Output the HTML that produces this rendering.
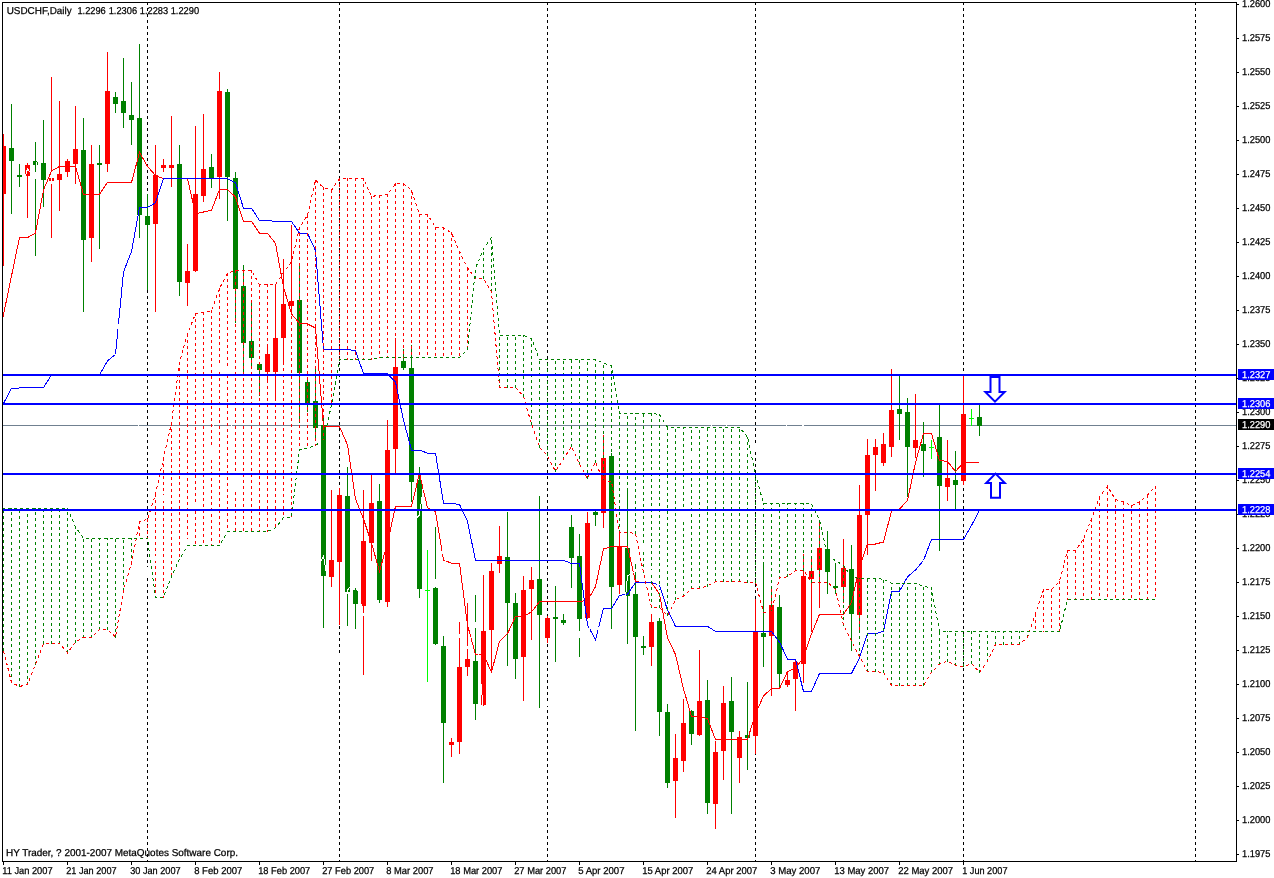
<!DOCTYPE html>
<html lang="en"><head><meta charset="utf-8"><title>USDCHF Daily</title>
<style>html,body{margin:0;padding:0;background:#fff;overflow:hidden}svg{display:block}text{font-family:"Liberation Sans", Arial, sans-serif;font-size:10px;fill:#000;stroke:#000;stroke-width:.25px}.w{fill:#fff;stroke:#fff}</style></head><body>
<svg width="1274" height="878" viewBox="0 0 1274 878" shape-rendering="crispEdges">
<rect x="0" y="0" width="1274" height="878" fill="#fff"/>
<defs><clipPath id="c"><rect x="3" y="3" width="1233" height="858"/></clipPath></defs>
<g stroke="#000" stroke-width="1" stroke-dasharray="3 3" fill="none">
<line x1="147.5" y1="2" x2="147.5" y2="861"/>
<line x1="339.5" y1="2" x2="339.5" y2="861"/>
<line x1="547.5" y1="2" x2="547.5" y2="861"/>
<line x1="755.5" y1="2" x2="755.5" y2="861"/>
<line x1="963.5" y1="2" x2="963.5" y2="861"/>
<line x1="1195.5" y1="2" x2="1195.5" y2="861"/>
</g>
<rect x="3" y="425" width="1233" height="1" fill="#708090"/>
<g clip-path="url(#c)">
<g fill="#ff0000">
<rect x="3" y="134" width="1" height="132"/>
<rect x="1" y="146" width="5" height="48"/>
<rect x="27" y="163" width="1" height="55"/>
<rect x="25" y="165" width="5" height="11"/>
<rect x="51" y="77" width="1" height="161"/>
<rect x="49" y="178" width="5" height="3"/>
<rect x="59" y="101" width="1" height="110"/>
<rect x="57" y="174" width="5" height="6"/>
<rect x="67" y="159" width="1" height="18"/>
<rect x="65" y="161" width="5" height="11"/>
<rect x="75" y="106" width="1" height="78"/>
<rect x="73" y="149" width="5" height="15"/>
<rect x="91" y="145" width="1" height="117"/>
<rect x="89" y="164" width="5" height="74"/>
<rect x="107" y="52" width="1" height="120"/>
<rect x="105" y="91" width="5" height="73"/>
<rect x="155" y="145" width="1" height="167"/>
<rect x="153" y="175" width="5" height="49"/>
<rect x="163" y="159" width="1" height="13"/>
<rect x="161" y="165" width="5" height="3"/>
<rect x="171" y="116" width="1" height="71"/>
<rect x="169" y="165" width="5" height="3"/>
<rect x="187" y="244" width="1" height="62"/>
<rect x="185" y="271" width="5" height="12"/>
<rect x="195" y="126" width="1" height="146"/>
<rect x="193" y="194" width="5" height="77"/>
<rect x="203" y="114" width="1" height="88"/>
<rect x="201" y="169" width="5" height="27"/>
<rect x="219" y="72" width="1" height="127"/>
<rect x="217" y="91" width="5" height="86"/>
<rect x="267" y="344" width="1" height="36"/>
<rect x="265" y="354" width="5" height="18"/>
<rect x="275" y="284" width="1" height="117"/>
<rect x="273" y="338" width="5" height="34"/>
<rect x="283" y="259" width="1" height="106"/>
<rect x="281" y="304" width="5" height="34"/>
<rect x="291" y="225" width="1" height="88"/>
<rect x="289" y="301" width="5" height="5"/>
<rect x="331" y="490" width="1" height="97"/>
<rect x="329" y="560" width="5" height="17"/>
<rect x="339" y="488" width="1" height="137"/>
<rect x="337" y="495" width="5" height="67"/>
<rect x="363" y="490" width="1" height="185"/>
<rect x="361" y="541" width="5" height="65"/>
<rect x="371" y="475" width="1" height="86"/>
<rect x="369" y="503" width="5" height="40"/>
<rect x="387" y="420" width="1" height="187"/>
<rect x="385" y="450" width="5" height="152"/>
<rect x="395" y="338" width="1" height="135"/>
<rect x="393" y="367" width="5" height="82"/>
<rect x="451" y="738" width="1" height="19"/>
<rect x="449" y="742" width="5" height="3"/>
<rect x="459" y="622" width="1" height="132"/>
<rect x="457" y="667" width="5" height="75"/>
<rect x="467" y="603" width="1" height="73"/>
<rect x="465" y="659" width="5" height="8"/>
<rect x="483" y="575" width="1" height="131"/>
<rect x="481" y="631" width="5" height="74"/>
<rect x="491" y="563" width="1" height="109"/>
<rect x="489" y="571" width="5" height="59"/>
<rect x="499" y="526" width="1" height="47"/>
<rect x="497" y="556" width="5" height="8"/>
<rect x="523" y="576" width="1" height="125"/>
<rect x="521" y="590" width="5" height="67"/>
<rect x="531" y="567" width="1" height="73"/>
<rect x="529" y="580" width="5" height="9"/>
<rect x="547" y="616" width="1" height="27"/>
<rect x="545" y="618" width="5" height="20"/>
<rect x="587" y="512" width="1" height="107"/>
<rect x="585" y="523" width="5" height="95"/>
<rect x="603" y="435" width="1" height="93"/>
<rect x="601" y="458" width="5" height="55"/>
<rect x="619" y="533" width="1" height="61"/>
<rect x="617" y="546" width="5" height="39"/>
<rect x="651" y="614" width="1" height="52"/>
<rect x="649" y="622" width="5" height="25"/>
<rect x="675" y="734" width="1" height="84"/>
<rect x="673" y="758" width="5" height="23"/>
<rect x="683" y="699" width="1" height="73"/>
<rect x="681" y="723" width="5" height="38"/>
<rect x="699" y="650" width="1" height="86"/>
<rect x="697" y="701" width="5" height="34"/>
<rect x="715" y="741" width="1" height="88"/>
<rect x="713" y="752" width="5" height="52"/>
<rect x="723" y="686" width="1" height="94"/>
<rect x="721" y="703" width="5" height="48"/>
<rect x="739" y="731" width="1" height="52"/>
<rect x="737" y="737" width="5" height="21"/>
<rect x="755" y="599" width="1" height="155"/>
<rect x="753" y="632" width="5" height="104"/>
<rect x="771" y="589" width="1" height="107"/>
<rect x="769" y="605" width="5" height="31"/>
<rect x="787" y="671" width="1" height="16"/>
<rect x="785" y="680" width="5" height="5"/>
<rect x="795" y="659" width="1" height="52"/>
<rect x="793" y="662" width="5" height="17"/>
<rect x="803" y="554" width="1" height="129"/>
<rect x="801" y="576" width="5" height="88"/>
<rect x="811" y="559" width="1" height="73"/>
<rect x="809" y="571" width="5" height="8"/>
<rect x="819" y="520" width="1" height="88"/>
<rect x="817" y="548" width="5" height="22"/>
<rect x="843" y="539" width="1" height="64"/>
<rect x="841" y="568" width="5" height="19"/>
<rect x="859" y="485" width="1" height="148"/>
<rect x="857" y="515" width="5" height="100"/>
<rect x="867" y="439" width="1" height="116"/>
<rect x="865" y="455" width="5" height="60"/>
<rect x="875" y="439" width="1" height="52"/>
<rect x="873" y="447" width="5" height="8"/>
<rect x="883" y="433" width="1" height="33"/>
<rect x="881" y="444" width="5" height="19"/>
<rect x="891" y="369" width="1" height="88"/>
<rect x="889" y="410" width="5" height="37"/>
<rect x="915" y="394" width="1" height="64"/>
<rect x="913" y="440" width="5" height="8"/>
<rect x="947" y="440" width="1" height="61"/>
<rect x="945" y="478" width="5" height="9"/>
<rect x="963" y="374" width="1" height="111"/>
<rect x="961" y="414" width="5" height="67"/>
</g>
<g fill="#008000">
<rect x="11" y="104" width="1" height="110"/>
<rect x="9" y="148" width="5" height="13"/>
<rect x="19" y="164" width="1" height="23"/>
<rect x="17" y="175" width="5" height="2"/>
<rect x="35" y="142" width="1" height="114"/>
<rect x="33" y="161" width="5" height="4"/>
<rect x="43" y="120" width="1" height="87"/>
<rect x="41" y="163" width="5" height="17"/>
<rect x="83" y="118" width="1" height="194"/>
<rect x="81" y="150" width="5" height="90"/>
<rect x="99" y="145" width="1" height="104"/>
<rect x="97" y="163" width="5" height="2"/>
<rect x="115" y="92" width="1" height="21"/>
<rect x="113" y="97" width="5" height="7"/>
<rect x="123" y="58" width="1" height="70"/>
<rect x="121" y="101" width="5" height="12"/>
<rect x="131" y="82" width="1" height="63"/>
<rect x="129" y="115" width="5" height="5"/>
<rect x="139" y="44" width="1" height="194"/>
<rect x="137" y="118" width="5" height="97"/>
<rect x="147" y="194" width="1" height="96"/>
<rect x="145" y="216" width="5" height="9"/>
<rect x="179" y="145" width="1" height="151"/>
<rect x="177" y="164" width="5" height="118"/>
<rect x="211" y="154" width="1" height="34"/>
<rect x="209" y="167" width="5" height="11"/>
<rect x="227" y="89" width="1" height="132"/>
<rect x="225" y="92" width="5" height="85"/>
<rect x="235" y="172" width="1" height="151"/>
<rect x="233" y="178" width="5" height="111"/>
<rect x="243" y="265" width="1" height="107"/>
<rect x="241" y="286" width="5" height="57"/>
<rect x="251" y="301" width="1" height="65"/>
<rect x="249" y="341" width="5" height="17"/>
<rect x="259" y="362" width="1" height="34"/>
<rect x="257" y="364" width="5" height="6"/>
<rect x="299" y="263" width="1" height="160"/>
<rect x="297" y="300" width="5" height="73"/>
<rect x="307" y="378" width="1" height="34"/>
<rect x="305" y="382" width="5" height="21"/>
<rect x="315" y="369" width="1" height="71"/>
<rect x="313" y="401" width="5" height="27"/>
<rect x="323" y="418" width="1" height="210"/>
<rect x="321" y="425" width="5" height="151"/>
<rect x="347" y="467" width="1" height="159"/>
<rect x="345" y="496" width="5" height="96"/>
<rect x="355" y="588" width="1" height="41"/>
<rect x="353" y="590" width="5" height="14"/>
<rect x="379" y="484" width="1" height="119"/>
<rect x="377" y="501" width="5" height="99"/>
<rect x="403" y="349" width="1" height="21"/>
<rect x="401" y="361" width="5" height="7"/>
<rect x="411" y="345" width="1" height="157"/>
<rect x="409" y="368" width="5" height="114"/>
<rect x="419" y="467" width="1" height="131"/>
<rect x="417" y="480" width="5" height="109"/>
<rect x="435" y="527" width="1" height="118"/>
<rect x="433" y="588" width="5" height="56"/>
<rect x="443" y="636" width="1" height="147"/>
<rect x="441" y="646" width="5" height="77"/>
<rect x="475" y="595" width="1" height="125"/>
<rect x="473" y="661" width="5" height="43"/>
<rect x="507" y="512" width="1" height="154"/>
<rect x="505" y="557" width="5" height="46"/>
<rect x="515" y="593" width="1" height="86"/>
<rect x="513" y="603" width="5" height="56"/>
<rect x="539" y="496" width="1" height="212"/>
<rect x="537" y="579" width="5" height="36"/>
<rect x="555" y="586" width="1" height="76"/>
<rect x="553" y="617" width="5" height="2"/>
<rect x="563" y="614" width="1" height="11"/>
<rect x="561" y="620" width="5" height="3"/>
<rect x="571" y="515" width="1" height="73"/>
<rect x="569" y="527" width="5" height="31"/>
<rect x="579" y="534" width="1" height="123"/>
<rect x="577" y="556" width="5" height="63"/>
<rect x="595" y="510" width="1" height="16"/>
<rect x="593" y="512" width="5" height="3"/>
<rect x="611" y="453" width="1" height="176"/>
<rect x="609" y="456" width="5" height="131"/>
<rect x="627" y="489" width="1" height="155"/>
<rect x="625" y="548" width="5" height="48"/>
<rect x="635" y="564" width="1" height="167"/>
<rect x="633" y="594" width="5" height="43"/>
<rect x="643" y="636" width="1" height="19"/>
<rect x="641" y="646" width="5" height="2"/>
<rect x="659" y="618" width="1" height="118"/>
<rect x="657" y="621" width="5" height="91"/>
<rect x="667" y="704" width="1" height="84"/>
<rect x="665" y="712" width="5" height="71"/>
<rect x="691" y="710" width="1" height="35"/>
<rect x="689" y="711" width="5" height="23"/>
<rect x="707" y="680" width="1" height="134"/>
<rect x="705" y="700" width="5" height="103"/>
<rect x="731" y="677" width="1" height="137"/>
<rect x="729" y="701" width="5" height="31"/>
<rect x="747" y="682" width="1" height="88"/>
<rect x="745" y="735" width="5" height="3"/>
<rect x="763" y="563" width="1" height="104"/>
<rect x="761" y="633" width="5" height="4"/>
<rect x="779" y="595" width="1" height="93"/>
<rect x="777" y="607" width="5" height="67"/>
<rect x="827" y="531" width="1" height="63"/>
<rect x="825" y="549" width="5" height="23"/>
<rect x="835" y="564" width="1" height="30"/>
<rect x="833" y="586" width="5" height="2"/>
<rect x="851" y="545" width="1" height="106"/>
<rect x="849" y="569" width="5" height="45"/>
<rect x="899" y="375" width="1" height="65"/>
<rect x="897" y="409" width="5" height="5"/>
<rect x="907" y="398" width="1" height="99"/>
<rect x="905" y="412" width="5" height="35"/>
<rect x="923" y="422" width="1" height="55"/>
<rect x="921" y="444" width="5" height="7"/>
<rect x="939" y="404" width="1" height="147"/>
<rect x="937" y="437" width="5" height="49"/>
<rect x="955" y="451" width="1" height="58"/>
<rect x="953" y="480" width="5" height="5"/>
<rect x="979" y="404" width="1" height="32"/>
<rect x="977" y="417" width="5" height="9"/>
</g>
<g fill="#00ff00">
<rect x="427" y="550" width="1" height="132"/>
<rect x="425" y="590" width="5" height="1"/>
<rect x="931" y="440" width="1" height="19"/>
<rect x="929" y="447" width="5" height="1"/>
<rect x="971" y="409" width="1" height="17"/>
<rect x="969" y="418" width="5" height="1"/>
</g>
<polyline points="-4.5,353.6 3.5,314.8 11.5,276.0 19.5,237.5 27.5,237.5 35.5,233.0 43.5,190.0 51.5,171.0 59.5,166.4 67.5,166.4 75.5,166.4 83.5,194.4 91.5,194.4 99.5,194.4 107.5,182.4 115.5,182.4 123.5,182.4 131.5,182.4 139.5,152.4 147.5,166.4 155.5,175.5 163.5,178.6 171.5,178.6 179.5,178.6 187.5,178.6 195.5,213.8 203.5,212.0 211.5,210.2 219.5,189.5 227.5,189.5 235.5,197.0 243.5,221.3 251.5,221.3 259.5,233.2 267.5,233.2 275.5,243.5 283.5,287.0 291.5,314.0 299.5,323.4 307.5,324.0 315.5,328.0 323.5,426.6 331.5,426.6 339.5,426.6 347.5,445.0 355.5,499.0 363.5,519.0 371.5,543.0 379.5,571.4 387.5,543.0 395.5,506.3 403.5,506.3 411.5,506.3 419.5,473.3 427.5,507.8 435.5,511.6 443.5,560.0 451.5,563.2 459.5,563.2 467.5,625.0 475.5,654.4 483.5,654.4 491.5,672.2 499.5,641.4 507.5,633.7 515.5,616.3 523.5,616.3 531.5,612.0 539.5,601.5 547.5,601.5 555.5,601.5 563.5,601.5 571.5,601.5 579.5,601.5 587.5,600.5 595.5,586.7 603.5,549.0 611.5,546.5 619.5,546.5 627.5,546.5 635.5,581.6 643.5,582.5 651.5,582.5 659.5,594.2 667.5,637.7 675.5,654.6 683.5,689.0 691.5,716.3 699.5,716.3 707.5,718.8 715.5,739.6 723.5,739.6 731.5,739.6 739.5,739.6 747.5,739.6 755.5,713.8 763.5,696.0 771.5,688.5 779.5,688.5 787.5,671.6 795.5,667.8 803.5,657.8 811.5,633.9 819.5,614.4 827.5,614.4 835.5,614.4 843.5,614.4 851.5,602.5 859.5,567.0 867.5,544.0 875.5,544.0 883.5,542.0 891.5,511.0 899.5,509.0 907.5,500.5 915.5,462.5 923.5,433.5 931.5,433.5 939.5,460.5 947.5,461.5 955.5,471.5 963.5,462.4 971.5,462.4 979.0,462.4" fill="none" stroke="#ff0000" stroke-width="1"/>
<polyline points="-4.5,418.6 3.5,403.5 11.5,388.4 19.5,388.0 27.5,387.5 35.5,387.5 43.5,387.5 51.5,375.0 59.5,375.0 67.5,375.0 75.5,375.0 83.5,375.0 91.5,375.0 99.5,375.0 107.5,360.8 115.5,354.5 123.5,272.0 131.5,251.4 139.5,207.5 147.5,207.5 155.5,202.8 163.5,178.6 171.5,178.6 179.5,178.6 187.5,178.6 195.5,178.6 203.5,178.6 211.5,178.6 219.5,178.6 227.5,178.6 235.5,182.6 243.5,208.2 251.5,208.2 259.5,220.5 267.5,220.5 275.5,221.5 283.5,221.5 291.5,221.5 299.5,233.2 307.5,233.2 315.5,250.5 323.5,349.4 331.5,349.4 339.5,349.4 347.5,349.4 355.5,350.7 363.5,373.7 371.5,373.7 379.5,373.7 387.5,373.7 395.5,382.0 403.5,420.4 411.5,450.0 419.5,450.0 427.5,453.2 435.5,453.2 443.5,503.4 451.5,503.4 459.5,504.5 467.5,521.4 475.5,560.5 483.5,560.5 491.5,560.5 499.5,560.5 507.5,560.5 515.5,560.5 523.5,560.5 531.5,560.5 539.5,560.5 547.5,560.5 555.5,560.5 563.5,560.5 571.5,563.4 579.5,563.4 587.5,625.0 595.5,639.6 603.5,608.5 611.5,608.5 619.5,595.4 627.5,594.2 635.5,582.5 643.5,582.5 651.5,582.5 659.5,585.4 667.5,610.0 675.5,626.4 683.5,626.4 691.5,626.4 699.5,626.4 707.5,626.4 715.5,631.4 723.5,631.4 731.5,631.4 739.5,631.4 747.5,631.4 755.5,631.4 763.5,631.4 771.5,631.4 779.5,642.0 787.5,659.3 795.5,659.3 803.5,691.4 811.5,691.4 819.5,673.5 827.5,673.5 835.5,673.5 843.5,673.5 851.5,673.5 859.5,657.8 867.5,633.7 875.5,633.7 883.5,631.4 891.5,591.3 899.5,591.3 907.5,576.8 915.5,570.0 923.5,560.5 931.5,539.4 939.5,539.4 947.5,539.4 955.5,539.4 963.5,539.4 971.5,525.5 979.0,511.2" fill="none" stroke="#0000ff" stroke-width="1"/>
<g stroke="#008000" stroke-width="1" stroke-dasharray="3 3" fill="none">
<line x1="3.5" y1="651" x2="3.5" y2="508"/>
<line x1="11.5" y1="683" x2="11.5" y2="508"/>
<line x1="19.5" y1="687" x2="19.5" y2="508"/>
<line x1="27.5" y1="685" x2="27.5" y2="508"/>
<line x1="35.5" y1="665" x2="35.5" y2="508"/>
<line x1="43.5" y1="644" x2="43.5" y2="508"/>
<line x1="51.5" y1="644" x2="51.5" y2="508"/>
<line x1="59.5" y1="644" x2="59.5" y2="508"/>
<line x1="67.5" y1="653" x2="67.5" y2="508"/>
<line x1="75.5" y1="643" x2="75.5" y2="527"/>
<line x1="83.5" y1="638" x2="83.5" y2="538"/>
<line x1="91.5" y1="638" x2="91.5" y2="538"/>
<line x1="99.5" y1="630" x2="99.5" y2="538"/>
<line x1="107.5" y1="630" x2="107.5" y2="538"/>
<line x1="115.5" y1="638" x2="115.5" y2="538"/>
<line x1="123.5" y1="591" x2="123.5" y2="538"/>
<line x1="131.5" y1="564" x2="131.5" y2="538"/>
<line x1="475.5" y1="279" x2="475.5" y2="268"/>
<line x1="483.5" y1="279" x2="483.5" y2="249"/>
<line x1="491.5" y1="292" x2="491.5" y2="237"/>
<line x1="499.5" y1="388" x2="499.5" y2="335"/>
<line x1="507.5" y1="388" x2="507.5" y2="335"/>
<line x1="515.5" y1="388" x2="515.5" y2="335"/>
<line x1="523.5" y1="397" x2="523.5" y2="335"/>
<line x1="531.5" y1="425" x2="531.5" y2="338"/>
<line x1="539.5" y1="448" x2="539.5" y2="359"/>
<line x1="547.5" y1="456" x2="547.5" y2="359"/>
<line x1="555.5" y1="472" x2="555.5" y2="359"/>
<line x1="563.5" y1="460" x2="563.5" y2="359"/>
<line x1="571.5" y1="447" x2="571.5" y2="359"/>
<line x1="579.5" y1="465" x2="579.5" y2="359"/>
<line x1="587.5" y1="479" x2="587.5" y2="359"/>
<line x1="595.5" y1="463" x2="595.5" y2="359"/>
<line x1="603.5" y1="482" x2="603.5" y2="363"/>
<line x1="611.5" y1="482" x2="611.5" y2="365"/>
<line x1="619.5" y1="533" x2="619.5" y2="413"/>
<line x1="627.5" y1="533" x2="627.5" y2="413"/>
<line x1="635.5" y1="534" x2="635.5" y2="413"/>
<line x1="643.5" y1="573" x2="643.5" y2="413"/>
<line x1="651.5" y1="608" x2="651.5" y2="413"/>
<line x1="659.5" y1="608" x2="659.5" y2="414"/>
<line x1="667.5" y1="616" x2="667.5" y2="427"/>
<line x1="675.5" y1="600" x2="675.5" y2="427"/>
<line x1="683.5" y1="597" x2="683.5" y2="427"/>
<line x1="691.5" y1="589" x2="691.5" y2="427"/>
<line x1="699.5" y1="589" x2="699.5" y2="427"/>
<line x1="707.5" y1="587" x2="707.5" y2="427"/>
<line x1="715.5" y1="582" x2="715.5" y2="427"/>
<line x1="723.5" y1="582" x2="723.5" y2="427"/>
<line x1="731.5" y1="582" x2="731.5" y2="427"/>
<line x1="739.5" y1="582" x2="739.5" y2="427"/>
<line x1="747.5" y1="583" x2="747.5" y2="437"/>
<line x1="755.5" y1="583" x2="755.5" y2="475"/>
<line x1="763.5" y1="613" x2="763.5" y2="503"/>
<line x1="771.5" y1="613" x2="771.5" y2="503"/>
<line x1="779.5" y1="579" x2="779.5" y2="503"/>
<line x1="787.5" y1="577" x2="787.5" y2="503"/>
<line x1="795.5" y1="571" x2="795.5" y2="503"/>
<line x1="803.5" y1="571" x2="803.5" y2="503"/>
<line x1="811.5" y1="583" x2="811.5" y2="504"/>
<line x1="819.5" y1="583" x2="819.5" y2="520"/>
<line x1="827.5" y1="583" x2="827.5" y2="556"/>
<line x1="835.5" y1="590" x2="835.5" y2="560"/>
<line x1="843.5" y1="626" x2="843.5" y2="565"/>
<line x1="851.5" y1="642" x2="851.5" y2="577"/>
<line x1="859.5" y1="657" x2="859.5" y2="578"/>
<line x1="867.5" y1="672" x2="867.5" y2="578"/>
<line x1="875.5" y1="672" x2="875.5" y2="578"/>
<line x1="883.5" y1="673" x2="883.5" y2="579"/>
<line x1="891.5" y1="686" x2="891.5" y2="583"/>
<line x1="899.5" y1="686" x2="899.5" y2="583"/>
<line x1="907.5" y1="686" x2="907.5" y2="583"/>
<line x1="915.5" y1="686" x2="915.5" y2="583"/>
<line x1="923.5" y1="686" x2="923.5" y2="586"/>
<line x1="931.5" y1="673" x2="931.5" y2="588"/>
<line x1="939.5" y1="665" x2="939.5" y2="631"/>
<line x1="947.5" y1="662" x2="947.5" y2="631"/>
<line x1="955.5" y1="666" x2="955.5" y2="631"/>
<line x1="963.5" y1="667" x2="963.5" y2="631"/>
<line x1="971.5" y1="664" x2="971.5" y2="631"/>
<line x1="979.5" y1="673" x2="979.5" y2="631"/>
<line x1="987.5" y1="662" x2="987.5" y2="631"/>
<line x1="995.5" y1="645" x2="995.5" y2="631"/>
<line x1="1003.5" y1="645" x2="1003.5" y2="631"/>
<line x1="1011.5" y1="645" x2="1011.5" y2="631"/>
<line x1="1019.5" y1="645" x2="1019.5" y2="631"/>
<line x1="1027.5" y1="638" x2="1027.5" y2="631"/>
</g>
<g stroke="#ff0000" stroke-width="1" stroke-dasharray="3 3" fill="none">
<line x1="139.5" y1="521" x2="139.5" y2="539"/>
<line x1="147.5" y1="519" x2="147.5" y2="539"/>
<line x1="155.5" y1="494" x2="155.5" y2="598"/>
<line x1="163.5" y1="458" x2="163.5" y2="598"/>
<line x1="171.5" y1="423" x2="171.5" y2="577"/>
<line x1="179.5" y1="362" x2="179.5" y2="560"/>
<line x1="187.5" y1="334" x2="187.5" y2="546"/>
<line x1="195.5" y1="313" x2="195.5" y2="546"/>
<line x1="203.5" y1="312" x2="203.5" y2="546"/>
<line x1="211.5" y1="310" x2="211.5" y2="546"/>
<line x1="219.5" y1="288" x2="219.5" y2="546"/>
<line x1="227.5" y1="273" x2="227.5" y2="532"/>
<line x1="235.5" y1="270" x2="235.5" y2="532"/>
<line x1="243.5" y1="270" x2="243.5" y2="532"/>
<line x1="251.5" y1="270" x2="251.5" y2="532"/>
<line x1="259.5" y1="284" x2="259.5" y2="532"/>
<line x1="267.5" y1="284" x2="267.5" y2="532"/>
<line x1="275.5" y1="284" x2="275.5" y2="528"/>
<line x1="283.5" y1="272" x2="283.5" y2="518"/>
<line x1="291.5" y1="262" x2="291.5" y2="518"/>
<line x1="299.5" y1="227" x2="299.5" y2="450"/>
<line x1="307.5" y1="215" x2="307.5" y2="449"/>
<line x1="315.5" y1="180" x2="315.5" y2="446"/>
<line x1="323.5" y1="187" x2="323.5" y2="441"/>
<line x1="331.5" y1="190" x2="331.5" y2="406"/>
<line x1="339.5" y1="178" x2="339.5" y2="360"/>
<line x1="347.5" y1="178" x2="347.5" y2="360"/>
<line x1="355.5" y1="178" x2="355.5" y2="360"/>
<line x1="363.5" y1="178" x2="363.5" y2="360"/>
<line x1="371.5" y1="196" x2="371.5" y2="360"/>
<line x1="379.5" y1="195" x2="379.5" y2="358"/>
<line x1="387.5" y1="194" x2="387.5" y2="358"/>
<line x1="395.5" y1="183" x2="395.5" y2="358"/>
<line x1="403.5" y1="183" x2="403.5" y2="358"/>
<line x1="411.5" y1="190" x2="411.5" y2="358"/>
<line x1="419.5" y1="214" x2="419.5" y2="358"/>
<line x1="427.5" y1="214" x2="427.5" y2="358"/>
<line x1="435.5" y1="227" x2="435.5" y2="358"/>
<line x1="443.5" y1="227" x2="443.5" y2="358"/>
<line x1="451.5" y1="232" x2="451.5" y2="358"/>
<line x1="459.5" y1="251" x2="459.5" y2="358"/>
<line x1="467.5" y1="268" x2="467.5" y2="350"/>
<line x1="1035.5" y1="614" x2="1035.5" y2="632"/>
<line x1="1043.5" y1="589" x2="1043.5" y2="632"/>
<line x1="1051.5" y1="589" x2="1051.5" y2="632"/>
<line x1="1059.5" y1="581" x2="1059.5" y2="632"/>
<line x1="1067.5" y1="550" x2="1067.5" y2="600"/>
<line x1="1075.5" y1="550" x2="1075.5" y2="600"/>
<line x1="1083.5" y1="539" x2="1083.5" y2="600"/>
<line x1="1091.5" y1="519" x2="1091.5" y2="600"/>
<line x1="1099.5" y1="497" x2="1099.5" y2="600"/>
<line x1="1107.5" y1="486" x2="1107.5" y2="600"/>
<line x1="1115.5" y1="499" x2="1115.5" y2="600"/>
<line x1="1123.5" y1="502" x2="1123.5" y2="600"/>
<line x1="1131.5" y1="505" x2="1131.5" y2="600"/>
<line x1="1139.5" y1="502" x2="1139.5" y2="600"/>
<line x1="1147.5" y1="495" x2="1147.5" y2="600"/>
<line x1="1155.5" y1="486" x2="1155.5" y2="600"/>
</g>
<polyline points="3.5,282.0 11.5,271.0 19.5,194.0 27.5,169.0 35.5,178.0 43.5,91.0 51.5,177.0 59.5,289.0 67.5,343.0 75.5,358.0 83.5,370.0 91.5,354.0 99.5,338.0 107.5,304.0 115.5,301.0 123.5,373.0 131.5,403.0 139.5,428.0 147.5,576.0 155.5,560.0 163.5,495.0 171.5,592.0 179.5,604.0 187.5,541.0 195.5,503.0 203.5,600.0 211.5,450.0 219.5,367.0 227.5,368.0 235.5,482.0 243.5,589.0 251.5,590.0 259.5,644.0 267.5,723.0 275.5,742.0 283.5,667.0 291.5,659.0 299.5,704.0 307.5,631.0 315.5,571.0 323.5,556.0 331.5,603.0 339.5,659.0 347.5,590.0 355.5,580.0 363.5,615.0 371.5,618.0 379.5,619.0 387.5,623.0 395.5,558.0 403.5,619.0 411.5,523.0 419.5,515.0 427.5,458.0 435.5,587.0 443.5,546.0 451.5,596.0 459.5,637.0 467.5,648.0 475.5,622.0 483.5,712.0 491.5,783.0 499.5,758.0 507.5,723.0 515.5,734.0 523.5,701.0 531.5,803.0 539.5,752.0 547.5,703.0 555.5,732.0 563.5,737.0 571.5,738.0 579.5,632.0 587.5,637.0 595.5,605.0 603.5,674.0 611.5,680.0 619.5,662.0 627.5,576.0 635.5,571.0 643.5,548.0 651.5,572.0 659.5,588.0 667.5,568.0 675.5,614.0 683.5,515.0 691.5,455.0 699.5,447.0 707.5,444.0 715.5,410.0 723.5,414.0 731.5,447.0 739.5,440.0 747.5,451.0 755.5,447.0 763.5,486.0 771.5,478.0 779.5,485.0 787.5,414.0 795.5,418.0 803.5,426.0" fill="none" stroke="#fff" stroke-width="1"/>
<polyline points="-4.5,622.0 3.5,650.5 11.5,682.5 19.5,686.5 27.5,684.6 35.5,664.5 43.5,643.4 51.5,643.4 59.5,643.4 67.5,652.8 75.5,642.1 83.5,637.5 91.5,637.5 99.5,629.3 107.5,629.3 115.5,637.1 123.5,590.0 131.5,563.4 139.5,521.4 147.5,519.5 155.5,494.0 163.5,458.0 171.5,423.0 179.5,362.0 187.5,334.0 195.5,313.7 203.5,312.5 211.5,310.9 219.5,288.3 227.5,273.2 235.5,270.7 243.5,270.7 251.5,270.7 259.5,284.5 267.5,284.5 275.5,284.5 283.5,272.6 291.5,262.0 299.5,227.5 307.5,215.3 315.5,180.1 323.5,187.7 331.5,190.2 339.5,178.6 347.5,178.6 355.5,178.6 363.5,178.6 371.5,196.5 379.5,195.2 387.5,194.6 395.5,183.7 403.5,183.7 411.5,190.2 419.5,214.7 427.5,214.7 435.5,227.2 443.5,227.9 451.5,232.9 459.5,251.5 467.5,268.0 475.5,278.4 483.5,278.4 491.5,291.6 499.5,387.2 507.5,387.2 515.5,387.2 523.5,396.6 531.5,424.0 539.5,447.7 547.5,455.8 555.5,471.5 563.5,459.0 571.5,446.4 579.5,464.0 587.5,478.4 595.5,462.0 603.5,481.3 611.5,481.3 619.5,532.7 627.5,532.7 635.5,533.3 643.5,572.8 651.5,607.5 659.5,607.5 667.5,615.7 675.5,599.8 683.5,596.0 691.5,588.5 699.5,588.5 707.5,586.0 715.5,581.6 723.5,581.6 731.5,581.6 739.5,581.6 747.5,582.5 755.5,582.5 763.5,612.0 771.5,612.0 779.5,578.0 787.5,576.7 795.5,570.4 803.5,570.4 811.5,582.3 819.5,582.3 827.5,582.3 835.5,589.2 843.5,625.0 851.5,641.4 859.5,656.5 867.5,671.6 875.5,671.6 883.5,672.5 891.5,685.4 899.5,685.4 907.5,685.4 915.5,685.4 923.5,685.4 931.5,672.4 939.5,664.2 947.5,661.0 955.5,665.4 963.5,666.5 971.5,663.6 979.5,672.4 987.5,661.0 995.5,644.5 1003.5,644.5 1011.5,644.5 1019.5,644.5 1027.5,637.2 1035.5,614.0 1043.5,589.5 1051.5,589.5 1059.5,581.4 1067.5,550.4 1075.5,550.4 1083.5,539.0 1091.5,519.0 1099.5,497.0 1107.5,486.3 1115.5,499.5 1123.5,502.0 1131.5,505.8 1139.5,502.0 1147.5,495.0 1155.5,486.0" fill="none" stroke="#ff0000" stroke-width="1" stroke-dasharray="3 3"/>
<polyline points="-4.5,508.6 3.5,508.6 11.5,508.6 19.5,508.6 27.5,508.6 35.5,508.6 43.5,508.6 51.5,508.6 59.5,508.6 67.5,508.6 75.5,527.0 83.5,538.4 91.5,538.4 99.5,538.4 107.5,538.4 115.5,538.4 123.5,538.4 131.5,538.4 139.5,538.4 147.5,538.4 155.5,597.3 163.5,597.3 171.5,576.6 179.5,559.0 187.5,545.5 195.5,545.5 203.5,545.5 211.5,545.5 219.5,545.5 227.5,531.4 235.5,531.4 243.5,531.4 251.5,531.4 259.5,531.4 267.5,531.4 275.5,527.9 283.5,517.6 291.5,517.6 299.5,449.8 307.5,448.5 315.5,445.4 323.5,440.0 331.5,405.0 339.5,359.5 347.5,359.3 355.5,359.3 363.5,359.3 371.5,359.3 379.5,357.4 387.5,357.4 395.5,357.4 403.5,357.4 411.5,357.4 419.5,357.4 427.5,357.4 435.5,357.4 443.5,357.4 451.5,357.4 459.5,357.4 467.5,349.5 475.5,268.0 483.5,249.0 491.5,237.6 499.5,335.3 507.5,335.3 515.5,335.3 523.5,335.3 531.5,338.5 539.5,359.6 547.5,359.6 555.5,359.6 563.5,359.6 571.5,359.6 579.5,359.6 587.5,359.6 595.5,359.6 603.5,363.3 611.5,365.8 619.5,413.2 627.5,413.2 635.5,413.2 643.5,413.2 651.5,413.2 659.5,414.5 667.5,427.3 675.5,427.3 683.5,427.3 691.5,427.3 699.5,427.3 707.5,427.3 715.5,427.3 723.5,427.3 731.5,427.3 739.5,427.3 747.5,437.0 755.5,475.0 763.5,503.2 771.5,503.2 779.5,503.2 787.5,503.2 795.5,503.2 803.5,503.2 811.5,504.4 819.5,520.0 827.5,556.0 835.5,560.6 843.5,565.4 851.5,577.0 859.5,578.5 867.5,578.5 875.5,578.5 883.5,579.2 891.5,583.4 899.5,583.4 907.5,583.4 915.5,583.4 923.5,586.3 931.5,588.0 939.5,631.5 947.5,631.5 955.5,631.5 963.5,631.5 971.5,631.5 979.5,631.5 987.5,631.5 995.5,631.5 1003.5,631.5 1011.5,631.5 1019.5,631.5 1027.5,631.5 1035.5,631.5 1043.5,631.5 1051.5,631.5 1059.5,631.5 1067.5,599.6 1075.5,599.6 1083.5,599.6 1091.5,599.6 1099.5,599.6 1107.5,599.6 1115.5,599.6 1123.5,599.6 1131.5,599.6 1139.5,599.6 1147.5,599.6 1155.5,599.6" fill="none" stroke="#008000" stroke-width="1" stroke-dasharray="3 3"/>
</g>
<rect x="3" y="374" width="1233" height="2" fill="#0000ff"/>
<rect x="3" y="403" width="1233" height="2" fill="#0000ff"/>
<rect x="3" y="473" width="1233" height="2" fill="#0000ff"/>
<rect x="3" y="509" width="1233" height="2" fill="#0000ff"/>
<path d="M990.5 377 H999.5 V392 H1004.6 L995 401.6 L985.4 392 H990.5 Z" fill="#fff" stroke="#0000ff" stroke-width="2" stroke-linejoin="miter" shape-rendering="auto"/>
<path d="M991 497.8 H1000 V483 H1004.8 L995.5 473.6 L986.2 483 H991 Z" fill="#fff" stroke="#0000ff" stroke-width="2" stroke-linejoin="miter" shape-rendering="auto"/>
<g fill="#000">
<rect x="2" y="2" width="1235" height="1"/>
<rect x="2" y="2" width="1" height="860"/>
<rect x="1236" y="2" width="1" height="860"/>
<rect x="2" y="861" width="1235" height="1"/>
<rect x="1237" y="4" width="2" height="1"/>
<rect x="1237" y="38" width="2" height="1"/>
<rect x="1237" y="72" width="2" height="1"/>
<rect x="1237" y="106" width="2" height="1"/>
<rect x="1237" y="140" width="2" height="1"/>
<rect x="1237" y="174" width="2" height="1"/>
<rect x="1237" y="208" width="2" height="1"/>
<rect x="1237" y="242" width="2" height="1"/>
<rect x="1237" y="276" width="2" height="1"/>
<rect x="1237" y="310" width="2" height="1"/>
<rect x="1237" y="344" width="2" height="1"/>
<rect x="1237" y="378" width="2" height="1"/>
<rect x="1237" y="412" width="2" height="1"/>
<rect x="1237" y="446" width="2" height="1"/>
<rect x="1237" y="480" width="2" height="1"/>
<rect x="1237" y="514" width="2" height="1"/>
<rect x="1237" y="548" width="2" height="1"/>
<rect x="1237" y="582" width="2" height="1"/>
<rect x="1237" y="616" width="2" height="1"/>
<rect x="1237" y="650" width="2" height="1"/>
<rect x="1237" y="684" width="2" height="1"/>
<rect x="1237" y="718" width="2" height="1"/>
<rect x="1237" y="752" width="2" height="1"/>
<rect x="1237" y="786" width="2" height="1"/>
<rect x="1237" y="820" width="2" height="1"/>
<rect x="1237" y="854" width="2" height="1"/>
<rect x="3" y="862" width="1" height="3"/>
<rect x="67" y="862" width="1" height="3"/>
<rect x="131" y="862" width="1" height="3"/>
<rect x="195" y="862" width="1" height="3"/>
<rect x="259" y="862" width="1" height="3"/>
<rect x="323" y="862" width="1" height="3"/>
<rect x="387" y="862" width="1" height="3"/>
<rect x="451" y="862" width="1" height="3"/>
<rect x="515" y="862" width="1" height="3"/>
<rect x="579" y="862" width="1" height="3"/>
<rect x="643" y="862" width="1" height="3"/>
<rect x="707" y="862" width="1" height="3"/>
<rect x="771" y="862" width="1" height="3"/>
<rect x="835" y="862" width="1" height="3"/>
<rect x="899" y="862" width="1" height="3"/>
<rect x="963" y="862" width="1" height="3"/>
</g>
<g shape-rendering="auto" text-rendering="geometricPrecision">
<text x="1242" y="7" textLength="28.4" lengthAdjust="spacingAndGlyphs">1.2600</text>
<text x="1242" y="41" textLength="28.4" lengthAdjust="spacingAndGlyphs">1.2575</text>
<text x="1242" y="75" textLength="28.4" lengthAdjust="spacingAndGlyphs">1.2550</text>
<text x="1242" y="109" textLength="28.4" lengthAdjust="spacingAndGlyphs">1.2525</text>
<text x="1242" y="143" textLength="28.4" lengthAdjust="spacingAndGlyphs">1.2500</text>
<text x="1242" y="177" textLength="28.4" lengthAdjust="spacingAndGlyphs">1.2475</text>
<text x="1242" y="211" textLength="28.4" lengthAdjust="spacingAndGlyphs">1.2450</text>
<text x="1242" y="245" textLength="28.4" lengthAdjust="spacingAndGlyphs">1.2425</text>
<text x="1242" y="279" textLength="28.4" lengthAdjust="spacingAndGlyphs">1.2400</text>
<text x="1242" y="313" textLength="28.4" lengthAdjust="spacingAndGlyphs">1.2375</text>
<text x="1242" y="347" textLength="28.4" lengthAdjust="spacingAndGlyphs">1.2350</text>
<text x="1242" y="381" textLength="28.4" lengthAdjust="spacingAndGlyphs">1.2325</text>
<text x="1242" y="415" textLength="28.4" lengthAdjust="spacingAndGlyphs">1.2300</text>
<text x="1242" y="449" textLength="28.4" lengthAdjust="spacingAndGlyphs">1.2275</text>
<text x="1242" y="483" textLength="28.4" lengthAdjust="spacingAndGlyphs">1.2250</text>
<text x="1242" y="517" textLength="28.4" lengthAdjust="spacingAndGlyphs">1.2225</text>
<text x="1242" y="551" textLength="28.4" lengthAdjust="spacingAndGlyphs">1.2200</text>
<text x="1242" y="585" textLength="28.4" lengthAdjust="spacingAndGlyphs">1.2175</text>
<text x="1242" y="619" textLength="28.4" lengthAdjust="spacingAndGlyphs">1.2150</text>
<text x="1242" y="653" textLength="28.4" lengthAdjust="spacingAndGlyphs">1.2125</text>
<text x="1242" y="687" textLength="28.4" lengthAdjust="spacingAndGlyphs">1.2100</text>
<text x="1242" y="721" textLength="28.4" lengthAdjust="spacingAndGlyphs">1.2075</text>
<text x="1242" y="755" textLength="28.4" lengthAdjust="spacingAndGlyphs">1.2050</text>
<text x="1242" y="789" textLength="28.4" lengthAdjust="spacingAndGlyphs">1.2025</text>
<text x="1242" y="823" textLength="28.4" lengthAdjust="spacingAndGlyphs">1.2000</text>
<text x="1242" y="857" textLength="28.4" lengthAdjust="spacingAndGlyphs">1.1975</text>
<rect x="1238" y="369" width="36" height="11" fill="#0000ff" shape-rendering="crispEdges"/>
<text class="w" x="1242" y="378" textLength="28.4" lengthAdjust="spacingAndGlyphs">1.2327</text>
<rect x="1238" y="398" width="36" height="11" fill="#0000ff" shape-rendering="crispEdges"/>
<text class="w" x="1242" y="407" textLength="28.4" lengthAdjust="spacingAndGlyphs">1.2306</text>
<rect x="1238" y="468" width="36" height="11" fill="#0000ff" shape-rendering="crispEdges"/>
<text class="w" x="1242" y="477" textLength="28.4" lengthAdjust="spacingAndGlyphs">1.2254</text>
<rect x="1238" y="504" width="36" height="11" fill="#0000ff" shape-rendering="crispEdges"/>
<text class="w" x="1242" y="513" textLength="28.4" lengthAdjust="spacingAndGlyphs">1.2228</text>
<rect x="1238" y="419" width="36" height="11" fill="#000" shape-rendering="crispEdges"/>
<text class="w" x="1242" y="428" textLength="28.4" lengthAdjust="spacingAndGlyphs">1.2290</text>
<text x="2.2" y="874" textLength="50.4" lengthAdjust="spacingAndGlyphs">11 Jan 2007</text>
<text x="66.2" y="874" textLength="50.4" lengthAdjust="spacingAndGlyphs">21 Jan 2007</text>
<text x="130.2" y="874" textLength="50.4" lengthAdjust="spacingAndGlyphs">30 Jan 2007</text>
<text x="194.2" y="874" textLength="48.1" lengthAdjust="spacingAndGlyphs">8 Feb 2007</text>
<text x="258.2" y="874" textLength="52.1" lengthAdjust="spacingAndGlyphs">18 Feb 2007</text>
<text x="322.2" y="874" textLength="52.1" lengthAdjust="spacingAndGlyphs">27 Feb 2007</text>
<text x="386.2" y="874" textLength="47.4" lengthAdjust="spacingAndGlyphs">8 Mar 2007</text>
<text x="450.2" y="874" textLength="52.3" lengthAdjust="spacingAndGlyphs">18 Mar 2007</text>
<text x="514.2" y="874" textLength="52.3" lengthAdjust="spacingAndGlyphs">27 Mar 2007</text>
<text x="578.2" y="874" textLength="46.3" lengthAdjust="spacingAndGlyphs">5 Apr 2007</text>
<text x="642.2" y="874" textLength="51.1" lengthAdjust="spacingAndGlyphs">15 Apr 2007</text>
<text x="706.2" y="874" textLength="51.1" lengthAdjust="spacingAndGlyphs">24 Apr 2007</text>
<text x="770.2" y="874" textLength="50.2" lengthAdjust="spacingAndGlyphs">3 May 2007</text>
<text x="834.2" y="874" textLength="54.9" lengthAdjust="spacingAndGlyphs">13 May 2007</text>
<text x="898.2" y="874" textLength="54.9" lengthAdjust="spacingAndGlyphs">22 May 2007</text>
<text x="962.2" y="874" textLength="45.3" lengthAdjust="spacingAndGlyphs">1 Jun 2007</text>
<text x="6.7" y="14" textLength="65" lengthAdjust="spacingAndGlyphs">USDCHF,Daily</text>
<text x="77.4" y="14" textLength="28.4" lengthAdjust="spacingAndGlyphs">1.2296</text>
<text x="108.7" y="14" textLength="28.4" lengthAdjust="spacingAndGlyphs">1.2306</text>
<text x="139.8" y="14" textLength="28.4" lengthAdjust="spacingAndGlyphs">1.2283</text>
<text x="170.7" y="14" textLength="28.4" lengthAdjust="spacingAndGlyphs">1.2290</text>
<text x="6" y="856" textLength="232" lengthAdjust="spacingAndGlyphs">HY Trader, ? 2001-2007 MetaQuotes Software Corp.</text>
</g>
</svg></body></html>
